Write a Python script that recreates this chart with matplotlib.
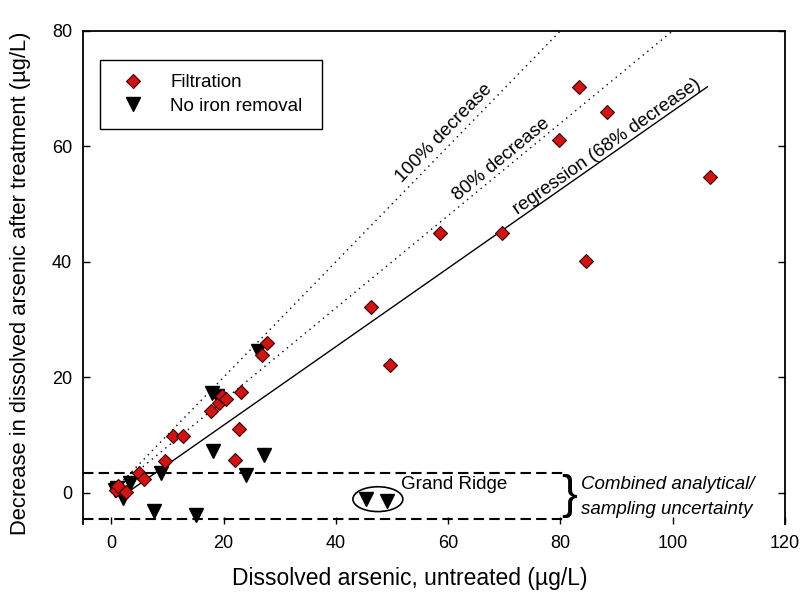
import numpy as np
import matplotlib
matplotlib.use('Agg')
import matplotlib.pyplot as plt
from matplotlib.patches import Ellipse

plt.rcParams['font.family'] = ['Liberation Sans', 'DejaVu Sans']

# ---- data ----
filt_x = [0.8, 1.2, 2.7, 5.0, 5.8, 9.5, 11.0, 12.7, 17.8, 19.2, 19.8, 20.4, 22.1,
          22.7, 23.1, 26.9, 27.7, 46.2, 49.7, 58.6, 69.6, 79.8, 83.3, 84.5, 88.3, 106.7]
filt_y = [0.5, 1.1, 0.2, 3.4, 2.4, 5.5, 9.9, 9.9, 14.1, 15.5, 16.8, 16.2, 5.6,
          11.0, 17.5, 23.9, 26.0, 32.2, 22.2, 45.0, 45.0, 61.1, 70.3, 40.2, 66.0, 54.7]

noiron_x = [0.6, 1.0, 2.1, 3.3, 7.7, 8.9, 15.1, 18.2, 18.0, 18.8, 24.0, 26.1, 27.2, 45.3, 49.1]
noiron_y = [0.5, 0.9, -0.9, 1.7, -3.2, 3.4, -3.8, 7.2, 17.3, 16.8, 3.0, 24.5, 6.6, -1.1, -1.4]

line_x = [0, 110]
slope_100 = 1.0
slope_80 = 0.8
reg_slope, reg_icpt = 0.68, -1.9
reg_x = [3, 106.2]

unc_hi, unc_lo = 3.5, -4.5
unc_xmax = 81

# ---- figure ----
fig = plt.figure(figsize=(8.0, 6.02), dpi=100)
ax = fig.add_axes([0.104, 0.1296, 0.877, 0.819])
ax.set_xlim(-5, 120)
ax.set_ylim(-5.4, 80)

ax.plot(line_x, [slope_100 * v for v in line_x], color='black', lw=1.0,
        linestyle=(0, (1, 3.2)))
ax.plot(line_x, [slope_80 * v for v in line_x], color='black', lw=1.0,
        linestyle=(0, (1, 3.2)))
ax.plot(reg_x, [reg_slope * v + reg_icpt for v in reg_x], color='black', lw=1.0)

ax.plot([-5, unc_xmax], [unc_hi, unc_hi], color='black', lw=1.5, linestyle=(0, (5, 2.5)))
ax.plot([-5, unc_xmax], [unc_lo, unc_lo], color='black', lw=1.5, linestyle=(0, (5, 2.5)))

ax.plot(noiron_x, noiron_y, linestyle='none', marker='v', ms=9.5, color='black',
        label='No iron removal', zorder=4)
ax.plot(filt_x, filt_y, linestyle='none', marker='D', ms=7.5, mfc='#d01414',
        mec='#3a0000', mew=0.8, label='Filtration', zorder=5)


def line_label(txt, x, y, slope):
    ang = ax.transData.transform_angles(np.array([np.degrees(np.arctan(slope))]),
                                        np.array([[x, y]]))[0]
    ax.text(x, y, txt, rotation=ang, rotation_mode='anchor', ha='center',
            va='center', fontsize=13.5)


line_label('100% decrease', 59.3, 62.3, slope_100)
line_label('80% decrease', 69.5, 57.8, slope_80)
line_label('regression (68% decrease)', 88.3, 59.9, reg_slope)

ax.add_patch(Ellipse((47.5, -1.1), 8.9, 4.3, fill=False, lw=1.2, color='black'))
ax.text(51.7, 1.4, 'Grand Ridge', fontsize=13.5, va='center', ha='left')

ax.text(81.5, -0.6, '}', fontsize=34, va='center', ha='center', fontweight='light')
ax.text(83.7, 1.4, 'Combined analytical/', fontsize=13.5, style='italic', va='center')
ax.text(83.7, -2.9, 'sampling uncertainty', fontsize=13.5, style='italic', va='center')

handles, labels = ax.get_legend_handles_labels()
leg = ax.legend(handles[::-1], labels[::-1], loc='upper left',
                bbox_to_anchor=(0.024, 0.941, 0.316, 0.0), mode='expand',
                fontsize=13.5, frameon=True, fancybox=False, edgecolor='black',
                framealpha=1, borderpad=0.75, labelspacing=0.35, handletextpad=1.0,
                borderaxespad=0)
leg.get_frame().set_linewidth(1.0)

ax.set_xticks([0, 20, 40, 60, 80, 100, 120])
ax.set_yticks([0, 20, 40, 60, 80])
ax.tick_params(direction='in', length=5, width=1, labelsize=13, top=False,
               right=True, bottom=True, left=True, pad=8)
ax.spines['bottom'].set_visible(False)
for s in ['left', 'right', 'top']:
    ax.spines[s].set_linewidth(1.3)

ax.set_xlabel('Dissolved arsenic, untreated (\u00b5g/L)', fontsize=16.5)
ax.set_ylabel('Decrease in dissolved arsenic after treatment (\u00b5g/L)', fontsize=15.8)
ax.xaxis.set_label_coords(0.466, -0.088)
ax.yaxis.set_label_coords(-0.074, 0.489)

fig.savefig('out.png', dpi=100)
